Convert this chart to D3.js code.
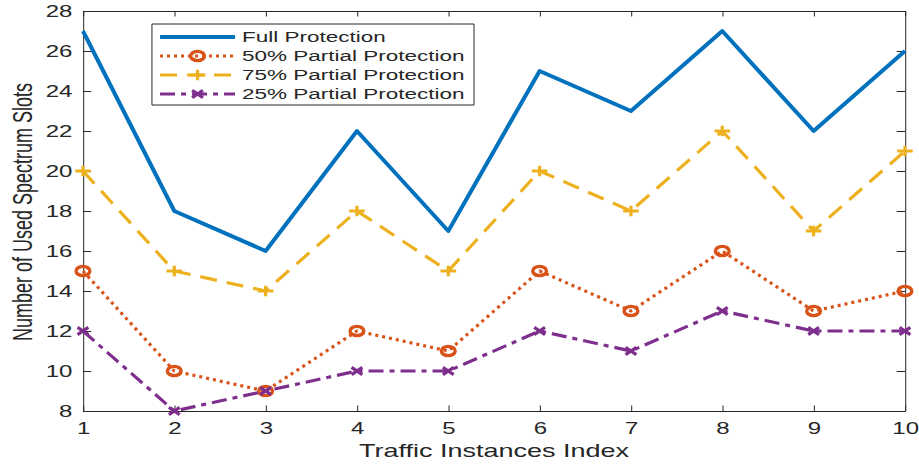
<!DOCTYPE html>
<html>
<head>
<meta charset="utf-8">
<script src="https://cdn.jsdelivr.net/npm/d3@7"></script>
<style>
  body { margin: 0; background: #fff; }
  svg { display: block; }
  text { font-family: "Liberation Sans", Arial, sans-serif; fill: #262626; }
</style>
</head>
<body>
<div id="chart"></div>
<script>
var xValues = [1, 2, 3, 4, 5, 6, 7, 8, 9, 10];
var fullProtection = [27, 18, 16, 22, 17, 25, 23, 27, 22, 26];
var partial50 = [15, 10, 9, 12, 11, 15, 13, 16, 13, 14];
var partial75 = [20, 15, 14, 18, 15, 20, 18, 22, 17, 21];
var partial25 = [12, 8, 9, 10, 10, 12, 11, 13, 12, 12];
var seriesNames = ["Full Protection", "50% Partial Protection", "75% Partial Protection", "25% Partial Protection"];
var yTicks = [8, 10, 12, 14, 16, 18, 20, 22, 24, 26, 28];
var xLabel = "Traffic Instances Index";
var yLabel = "Number of Used Spectrum Slots";

// the figure is stretched horizontally, so draw in a narrower box and let the viewBox stretch it
var width = 919;
var height = 467;
var stretch = 1.5;
var vbWidth = width / stretch;

var plotLeft = 55.3, plotRight = 603.3, plotTop = 11, plotBottom = 411;

var series = [
  { name: seriesNames[0], values: fullProtection, color: "#0072BD", width: 4, dash: null, marker: null },
  { name: seriesNames[1], values: partial50, color: "#D95319", width: 3.2, dash: "3,4", marker: "circle" },
  { name: seriesNames[2], values: partial75, color: "#EDB120", width: 3.2, dash: "17,10", marker: "plus" },
  { name: seriesNames[3], values: partial25, color: "#7E2F8E", width: 3.2, dash: "15,6,5,6", marker: "cross" }
];

var svg = d3
  .select("#chart")
  .append("svg")
  .attr("width", width)
  .attr("height", height)
  .attr("viewBox", "0 0 " + vbWidth + " " + height)
  .attr("preserveAspectRatio", "none");

var x = d3.scaleLinear().domain([1, 10]).range([plotLeft, plotRight]);
var y = d3.scaleLinear().domain([8, 28]).range([plotBottom, plotTop]);

function styleAxis(g) {
  g.selectAll("path, line")
    .attr("stroke", "#262626")
    .attr("stroke-width", 1)
    .attr("vector-effect", "non-scaling-stroke");
  g.selectAll("text").style("font-size", "16px").attr("fill", "#262626");
}

svg.append("g")
  .attr("transform", "translate(0," + plotBottom + ")")
  .call(d3.axisBottom(x).tickValues(xValues).tickSizeInner(-5.5).tickSizeOuter(0).tickPadding(12))
  .call(styleAxis);

svg.append("g")
  .attr("transform", "translate(0," + plotTop + ")")
  .call(d3.axisTop(x).tickValues(xValues).tickSizeInner(-5.5).tickSizeOuter(0).tickFormat(""))
  .call(styleAxis);

svg.append("g")
  .attr("transform", "translate(" + plotLeft + ",0)")
  .call(d3.axisLeft(y).tickValues(yTicks).tickSizeInner(-5.5).tickSizeOuter(0).tickPadding(7))
  .call(styleAxis);

svg.append("g")
  .attr("transform", "translate(" + plotRight + ",0)")
  .call(d3.axisRight(y).tickValues(yTicks).tickSizeInner(-5.5).tickSizeOuter(0).tickFormat(""))
  .call(styleAxis);

svg.selectAll(".domain").attr("fill", "none");

var line = d3
  .line()
  .x(function (d, i) { return x(xValues[i]); })
  .y(function (d) { return y(d); });

function drawMarker(g, type, cx, cy, color) {
  if (type === "circle") {
    g.append("circle")
      .attr("cx", cx).attr("cy", cy).attr("r", 4.6)
      .attr("fill", "none").attr("stroke", color).attr("stroke-width", 3.4)
      .attr("vector-effect", "non-scaling-stroke");
  } else if (type === "plus") {
    var s = 5.2;
    g.append("path")
      .attr("d", "M" + (cx - s) + "," + cy + "H" + (cx + s) + "M" + cx + "," + (cy - s) + "V" + (cy + s))
      .attr("stroke", color).attr("stroke-width", 3.2).attr("fill", "none")
      .attr("vector-effect", "non-scaling-stroke");
  } else if (type === "cross") {
    var c = 3.6;
    g.append("path")
      .attr("d", "M" + (cx - c) + "," + (cy - c) + "L" + (cx + c) + "," + (cy + c) +
        "M" + (cx - c) + "," + (cy + c) + "L" + (cx + c) + "," + (cy - c))
      .attr("stroke", color).attr("stroke-width", 3.2).attr("fill", "none")
      .attr("vector-effect", "non-scaling-stroke");
  }
}

var plot = svg.append("g");

series.forEach(function (s) {
  plot.append("path")
    .datum(s.values)
    .attr("d", line)
    .attr("fill", "none")
    .attr("stroke", s.color)
    .attr("stroke-width", s.width)
    .attr("stroke-dasharray", s.dash)
    .attr("stroke-linejoin", "round")
    .attr("vector-effect", "non-scaling-stroke");
  if (s.marker) {
    var mg = plot.append("g");
    s.values.forEach(function (v, i) {
      drawMarker(mg, s.marker, x(xValues[i]), y(v), s.color);
    });
  }
});

// legend
var legend = svg.append("g");
legend.append("rect")
  .attr("x", 101.3).attr("y", 24)
  .attr("width", 214.7).attr("height", 81)
  .attr("fill", "#fff")
  .attr("stroke", "#262626")
  .attr("stroke-width", 1)
  .attr("vector-effect", "non-scaling-stroke");

series.forEach(function (s, i) {
  var ly = 37 + i * 19;
  legend.append("line")
    .attr("x1", 106.7).attr("x2", 156.7)
    .attr("y1", ly).attr("y2", ly)
    .attr("stroke", s.color)
    .attr("stroke-width", s.width)
    .attr("stroke-dasharray", s.dash)
    .attr("vector-effect", "non-scaling-stroke");
  if (s.marker) drawMarker(legend, s.marker, 131.7, ly, s.color);
  legend.append("text")
    .attr("x", 161.3).attr("y", ly)
    .attr("dy", "0.36em")
    .style("font-size", "15px")
    .text(s.name);
});

svg.append("text")
  .attr("x", (plotLeft + plotRight) / 2)
  .attr("y", 457)
  .attr("text-anchor", "middle")
  .style("font-size", "18px")
  .text(xLabel);

svg.append("text")
  .attr("transform", "translate(21.3," + 212 + ") rotate(-90)")
  .attr("text-anchor", "middle")
  .style("font-size", "18px")
  .text(yLabel);
</script>
</body>
</html>
